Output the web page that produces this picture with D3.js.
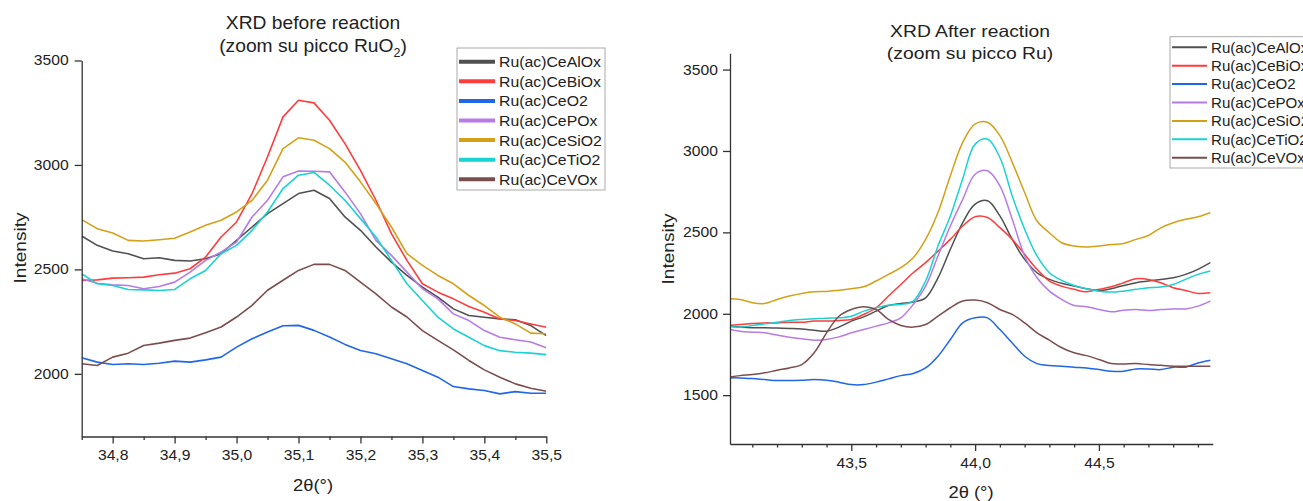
<!DOCTYPE html>
<html>
<head>
<meta charset="utf-8">
<script src="https://cdn.jsdelivr.net/npm/d3@7"></script>
<style>
  body { margin: 0; background: #fff; }
  svg text { font-family: Arial, "Liberation Sans", sans-serif; fill: #222; }
  .axis path, .axis line { stroke: #333; stroke-width: 1.3; }
  .axis text { font-size: 14px; fill: #222; }
</style>
</head>
<body>
<svg id="chart" width="1303" height="501"></svg>
<script>
var seriesNames = ["Ru(ac)CeAlOx", "Ru(ac)CeBiOx", "Ru(ac)CeO2", "Ru(ac)CePOx", "Ru(ac)CeSiO2", "Ru(ac)CeTiO2", "Ru(ac)CeVOx"];
var seriesColors = ["#505050", "#ff3b3b", "#1f66e8", "#b57be6", "#d4a017", "#1ad2d2", "#7b4e4e"];

// XRD before reaction (RuO2 peak)
var beforeTheta = [34.75, 34.775, 34.8, 34.825, 34.85, 34.875, 34.9, 34.925, 34.95, 34.975, 35.0, 35.025, 35.05, 35.075, 35.1, 35.125,
  35.15, 35.175, 35.2, 35.225, 35.25, 35.275, 35.3, 35.325, 35.35, 35.375, 35.4, 35.425, 35.45, 35.475, 35.5];
var beforeAlOx = [2660, 2615, 2588, 2575, 2551, 2556, 2543, 2540, 2551, 2575, 2639, 2703, 2767, 2815, 2863, 2879,
  2839, 2751, 2687, 2607, 2535, 2471, 2415, 2367, 2311, 2279, 2271, 2263, 2259, 2231, 2183];
var beforeBiOx = [2447, 2450, 2458, 2460, 2463, 2474, 2482, 2503, 2559, 2655, 2727, 2863, 3039, 3230, 3310, 3297,
  3214, 3102, 2974, 2831, 2671, 2543, 2431, 2391, 2359, 2322, 2295, 2263, 2255, 2239, 2223];
var beforeCeO2 = [2077, 2056, 2045, 2048, 2045, 2051, 2061, 2056, 2067, 2080, 2128, 2168, 2200, 2230, 2232, 2208,
  2176, 2141, 2112, 2096, 2072, 2048, 2016, 1984, 1939, 1928, 1920, 1904, 1915, 1907, 1907];
var beforePOx = [2455, 2434, 2426, 2423, 2407, 2418, 2439, 2487, 2543, 2583, 2631, 2751, 2831, 2943, 2971, 2970,
  2967, 2871, 2767, 2639, 2567, 2487, 2407, 2359, 2287, 2255, 2207, 2175, 2163, 2152, 2125];
var beforeSiO2 = [2738, 2695, 2674, 2639, 2636, 2642, 2649, 2679, 2711, 2735, 2775, 2830, 2927, 3078, 3130, 3118,
  3078, 3014, 2919, 2815, 2703, 2575, 2519, 2471, 2431, 2375, 2327, 2271, 2239, 2195, 2192];
var beforeTiO2 = [2479, 2431, 2423, 2404, 2402, 2399, 2404, 2455, 2495, 2575, 2615, 2687, 2775, 2887, 2951, 2964,
  2903, 2831, 2743, 2655, 2543, 2431, 2351, 2271, 2215, 2175, 2135, 2111, 2103, 2099, 2092];
var beforeVOx = [2048, 2040, 2080, 2099, 2136, 2147, 2160, 2171, 2197, 2224, 2272, 2328, 2400, 2448, 2495, 2524,
  2524, 2495, 2439, 2383, 2320, 2272, 2207, 2160, 2115, 2064, 2019, 1984, 1952, 1931, 1917];
var beforeYTicks = [2000, 2500, 3000, 3500];
var beforeXTicks = [34.8, 34.9, 35.0, 35.1, 35.2, 35.3, 35.4, 35.5];
var beforeXMinor = [34.75, 34.85, 34.95, 35.05, 35.15, 35.25, 35.35, 35.45];

// XRD after reaction (Ru peak)
var afterTheta = [43.0, 43.05, 43.1, 43.15, 43.2, 43.25, 43.3, 43.35, 43.4, 43.45, 43.5, 43.55, 43.6, 43.65, 43.7, 43.75, 43.8, 43.85, 43.9, 43.95,
  44.0, 44.05, 44.1, 44.15, 44.2, 44.25, 44.3, 44.35, 44.4, 44.45, 44.5, 44.55, 44.6, 44.65, 44.7, 44.75, 44.8, 44.85, 44.9, 44.95];
var afterAlOx = [1924, 1918, 1914, 1914, 1912, 1910, 1907, 1899, 1893, 1918, 1955, 1981, 2016, 2051, 2063, 2072, 2098, 2221, 2396, 2560,
  2673, 2694, 2601, 2457, 2334, 2252, 2211, 2187, 2170, 2154, 2143, 2154, 2174, 2191, 2201, 2211, 2221, 2242, 2273, 2314];
var afterBiOx = [1928, 1934, 1940, 1944, 1944, 1948, 1948, 1955, 1955, 1959, 1965, 1996, 2037, 2109, 2180, 2252, 2314, 2385, 2457, 2539,
  2596, 2591, 2529, 2457, 2365, 2273, 2201, 2170, 2150, 2135, 2150, 2166, 2191, 2215, 2211, 2191, 2160, 2143, 2125, 2129];
var afterCeO2 = [1606, 1606, 1602, 1596, 1590, 1590, 1592, 1596, 1592, 1580, 1565, 1565, 1580, 1600, 1620, 1633, 1667, 1739, 1842, 1944,
  1975, 1975, 1903, 1821, 1739, 1694, 1682, 1678, 1672, 1667, 1657, 1647, 1647, 1661, 1661, 1657, 1672, 1672, 1698, 1715];
var afterPOx = [1907, 1893, 1887, 1883, 1869, 1856, 1846, 1838, 1842, 1858, 1883, 1903, 1924, 1944, 1975, 2057, 2170, 2355, 2539, 2703,
  2857, 2878, 2786, 2580, 2355, 2221, 2139, 2088, 2051, 2043, 2026, 2012, 2022, 2026, 2020, 2026, 2030, 2030, 2047, 2078];
var afterSiO2 = [2092, 2088, 2068, 2063, 2088, 2109, 2125, 2135, 2137, 2145, 2154, 2166, 2201, 2242, 2283, 2344, 2457, 2622, 2848, 3053,
  3166, 3176, 3094, 2930, 2745, 2570, 2498, 2436, 2416, 2410, 2416, 2426, 2432, 2457, 2481, 2528, 2559, 2580, 2596, 2621];
var afterTiO2 = [1924, 1918, 1928, 1938, 1948, 1959, 1965, 1969, 1973, 1975, 1985, 2016, 2037, 2053, 2057, 2078, 2201, 2416, 2601, 2830,
  3042, 3073, 2960, 2724, 2519, 2355, 2252, 2205, 2174, 2154, 2139, 2133, 2139, 2150, 2160, 2164, 2180, 2211, 2242, 2263];
var afterVOx = [1610, 1620, 1627, 1637, 1653, 1667, 1688, 1760, 1883, 1985, 2026, 2043, 2026, 1965, 1928, 1918, 1934, 1985, 2037, 2078,
  2084, 2068, 2026, 1996, 1944, 1883, 1838, 1791, 1760, 1743, 1719, 1694, 1692, 1694, 1688, 1684, 1678, 1678, 1678, 1678];
var afterYTicks = [1500, 2000, 2500, 3000, 3500];
var afterXTicks = [43.5, 44.0, 44.5];
var afterXMinor = [43.1, 43.2, 43.3, 43.4, 43.6, 43.7, 43.8, 43.9, 44.1, 44.2, 44.3, 44.4, 44.6, 44.7, 44.8, 44.9];

var svg = d3.select("#chart");
var commaFmt = function(d){ return d3.format(".1f")(d).replace(".", ","); };

// stretch text horizontally (the source picture is a bit widened)
function stretch(sel, k) {
    sel.each(function(){
        var w = this.getComputedTextLength();
        d3.select(this).attr("textLength", w * k).attr("lengthAdjust", "spacingAndGlyphs");
    });
}

function drawPanel(p) {
    var x = d3.scaleLinear().domain(p.xDomain).range([p.left, p.right]);
    var y = d3.scaleLinear().domain(p.yDomain).range([p.bottom, p.top]);
    var g = svg.append("g").attr("id", p.id);

    g.append("clipPath").attr("id", p.id + "_clip")
      .append("rect")
      .attr("x", p.left).attr("y", p.top)
      .attr("width", p.right - p.left).attr("height", p.bottom - p.top);

    var line = d3.line()
        .x(function(d){ return x(d[0]); })
        .y(function(d){ return y(d[1]); })
        .curve(p.curve);

    p.series.forEach(function(vals, i){
        g.append("path")
          .datum(p.xs.map(function(v, j){ return [v, vals[j]]; }))
          .attr("clip-path", "url(#" + p.id + "_clip)")
          .attr("fill", "none")
          .attr("stroke", seriesColors[i])
          .attr("stroke-width", p.lineWidth)
          .attr("stroke-linejoin", "round")
          .attr("d", line);
    });

    // axes
    var yAxis = d3.axisLeft(y).tickValues(p.yTicks).tickSize(7).tickSizeOuter(0)
        .tickPadding(p.yPad).tickFormat(d3.format("d"));
    var yg = g.append("g").attr("class", "axis").attr("transform", "translate(" + p.left + ",0)").call(yAxis);

    var xAxis = d3.axisBottom(x).tickValues(p.xTicks).tickSize(7).tickSizeOuter(0)
        .tickPadding(p.xPad).tickFormat(commaFmt);
    var xg = g.append("g").attr("class", "axis").attr("transform", "translate(0," + p.bottom + ")").call(xAxis);

    var xMinor = d3.axisBottom(x).tickValues(p.xMinor).tickSize(3.5).tickSizeOuter(0).tickFormat("");
    g.append("g").attr("class", "axis").attr("transform", "translate(0," + p.bottom + ")").call(xMinor)
      .select(".domain").remove();

    stretch(yg.selectAll(".tick text"), 1.12);
    stretch(xg.selectAll(".tick text"), 1.12);

    // axis titles
    var yt = g.append("text")
      .attr("transform", "translate(" + (p.yTitleX + 6) + "," + p.yTitleY + ") rotate(-90)")
      .attr("text-anchor", "middle")
      .style("font-size", "17px")
      .text("Intensity");
    stretch(yt, 1.12);

    var xt = g.append("text")
      .attr("x", p.xTitleX).attr("y", p.xTitleY + 6)
      .attr("text-anchor", "middle")
      .style("font-size", "17px")
      .text(p.xTitle);
    stretch(xt, 1.08);

    // title, two lines
    var t1 = g.append("text")
      .attr("x", p.titleX).attr("y", p.titleY1)
      .attr("text-anchor", "middle")
      .style("font-size", p.titleSize + "px")
      .text(p.title1);
    stretch(t1, p.titleStretch);

    var t2 = g.append("text")
      .attr("x", p.titleX).attr("y", p.titleY2)
      .attr("text-anchor", "middle")
      .style("font-size", p.titleSize + "px");
    t2.append("tspan").text(p.title2[0]);
    if (p.title2.length > 2) {
        t2.append("tspan").attr("dy", 5).style("font-size", (p.titleSize * 0.65) + "px").text(p.title2[1]);
        t2.append("tspan").attr("dy", -5).text(p.title2[2]);
    } else {
        t2.append("tspan").text(p.title2[1]);
    }
    stretch(t2, p.titleStretch);

    // legend
    var lg = g.append("g");
    lg.append("rect")
      .attr("x", p.legX).attr("y", p.legY)
      .attr("width", p.legW).attr("height", p.legH)
      .attr("fill", "#fff").attr("stroke", "#aaa").attr("stroke-width", 1);

    seriesNames.forEach(function(name, i){
        var cy = p.legRow0 + i * p.legStep;
        lg.append("line")
          .attr("x1", p.legX + 2).attr("x2", p.legX + 2 + p.legLine)
          .attr("y1", cy).attr("y2", cy)
          .attr("stroke", seriesColors[i])
          .attr("stroke-width", p.legLineWidth);
        var lt = lg.append("text")
          .attr("x", p.legX + p.legLine + 6).attr("y", cy + p.legFont * 0.36)
          .style("font-size", p.legFont + "px")
          .text(name);
        stretch(lt, p.legStretch);
    });
}

drawPanel({
    id: "before",
    xs: beforeTheta,
    series: [beforeAlOx, beforeBiOx, beforeCeO2, beforePOx, beforeSiO2, beforeTiO2, beforeVOx],
    xDomain: [34.75, 35.5], yDomain: [1700, 3500],
    left: 81.7, right: 546.3, top: 60.5, bottom: 436.5,
    curve: d3.curveLinear, lineWidth: 1.6,
    yTicks: beforeYTicks, xTicks: beforeXTicks, xMinor: beforeXMinor,
    yPad: 6, xPad: 7,
    yTitleX: 20, yTitleY: 248, xTitleX: 313, xTitleY: 485, xTitle: "2\u03b8(\u00b0)",
    title1: "XRD before reaction", title2: ["(zoom su picco RuO", "2", ")"],
    titleX: 313, titleY1: 28.5, titleY2: 51.5, titleSize: 18.5, titleStretch: 1.04,
    legX: 457, legY: 48, legW: 148, legH: 142, legRow0: 61.7, legStep: 19.6,
    legLine: 36, legLineWidth: 4, legFont: 15.5, legStretch: 1.02
});

drawPanel({
    id: "after",
    xs: afterTheta,
    series: [afterAlOx, afterBiOx, afterCeO2, afterPOx, afterSiO2, afterTiO2, afterVOx],
    xDomain: [43.01, 44.96], yDomain: [1200, 3600],
    left: 730, right: 1212.8, top: 53.3, bottom: 444,
    curve: d3.curveCatmullRom, lineWidth: 1.5,
    yTicks: afterYTicks, xTicks: afterXTicks, xMinor: afterXMinor,
    yPad: 5, xPad: 7.5,
    yTitleX: 668, yTitleY: 249, xTitleX: 971, xTitleY: 491.5, xTitle: "2\u03b8 (\u00b0)",
    title1: "XRD After reaction", title2: ["(zoom su picco Ru", ")"],
    titleX: 970, titleY1: 36.5, titleY2: 59, titleSize: 16.5, titleStretch: 1.17,
    legX: 1170, legY: 36.7, legW: 145, legH: 131.3, legRow0: 47.3, legStep: 18.4,
    legLine: 35, legLineWidth: 2, legFont: 14.5, legStretch: 1.04
});
</script>
</body>
</html>
